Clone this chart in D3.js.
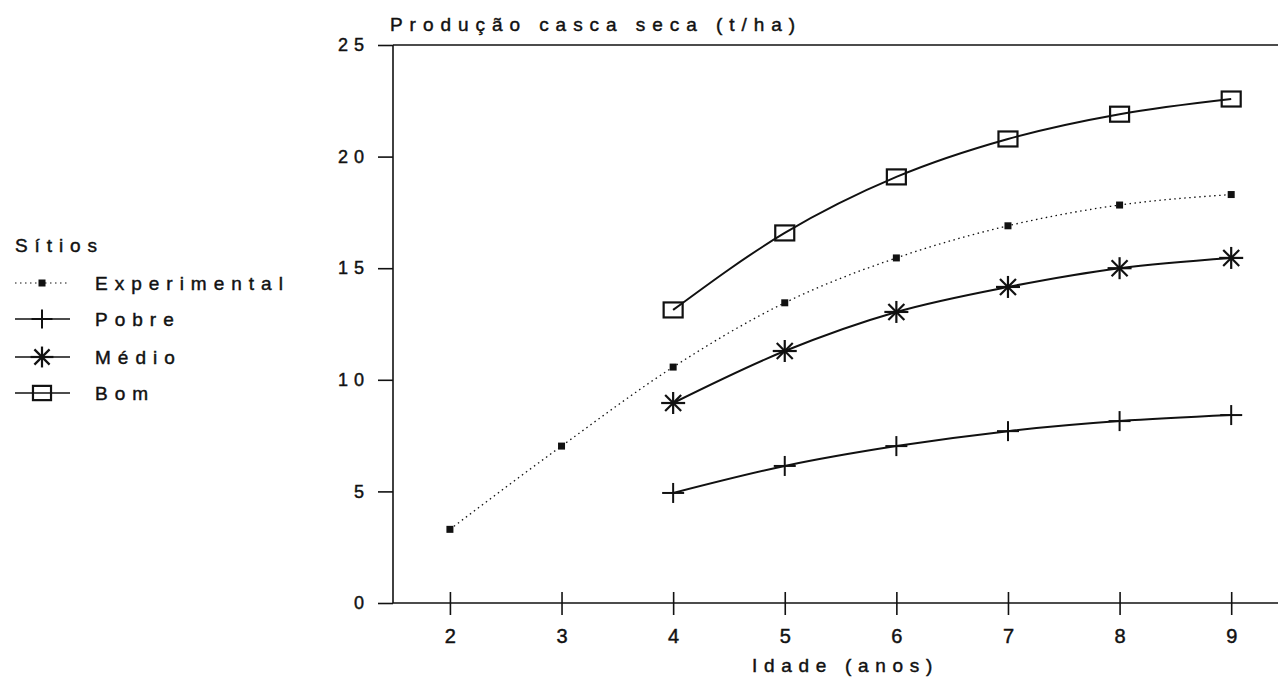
<!DOCTYPE html>
<html><head><meta charset="utf-8">
<script src="https://cdn.jsdelivr.net/npm/d3@7"></script>
<style>
body{margin:0;background:#fff;}
text{font-family:"Liberation Sans",Arial,sans-serif;fill:#111;stroke:#111;stroke-width:0.45px;}
</style></head>
<body><svg id="c" width="1278" height="677"></svg>
<script>
const ages = [2,3,4,5,6,7,8,9];
const experimental = [3.3,7.03,10.57,13.45,15.46,16.9,17.83,18.3];
const agesSite = [4,5,6,7,8,9];
const pobre = [4.93,6.14,7.03,7.7,8.15,8.42];
const medio = [8.96,11.29,13.04,14.16,15.0,15.46];
const bom = [13.13,16.58,19.09,20.79,21.9,22.58];
const yTicks = [0,5,10,15,20,25];
const seriesNames = ["Experimental","Pobre","Médio","Bom"];
const title = "Produção casca seca (t/ha)";
const xTitle = "Idade (anos)";
const legendTitle = "Sítios";

const svg = d3.select("#c");
const x = d3.scaleLinear().domain([1.49,9.5]).range([393,1287]);
const y = d3.scaleLinear().domain([0,25]).range([603,45]);
const ink="#111";
const FF="'Liberation Sans',Arial,sans-serif";

// axes frame
svg.append("line").attr("x1",x(1.49)).attr("x2",1278).attr("y1",y(0)).attr("y2",y(0)).attr("stroke",ink).attr("stroke-width",1.6);
svg.append("line").attr("x1",x(1.49)).attr("x2",x(1.49)).attr("y1",y(0)).attr("y2",y(25)).attr("stroke",ink).attr("stroke-width",1.6);
svg.append("line").attr("x1",x(1.49)).attr("x2",1278).attr("y1",y(25)).attr("y2",y(25)).attr("stroke",ink).attr("stroke-width",1.6);

const yAxis = svg.append("g").attr("transform",`translate(${x(1.49)},0)`)
  .call(d3.axisLeft(y).tickValues(yTicks).tickSize(15).tickPadding(14));
yAxis.select(".domain").remove();
yAxis.selectAll("line").attr("stroke",ink).attr("stroke-width",1.6);
yAxis.selectAll("text").attr("font-size",18).attr("letter-spacing","6px").attr("dx","6px")
  .style("font-family",FF).attr("fill",ink).attr("stroke",ink).attr("stroke-width",0.45);

const xAxis = svg.append("g").attr("transform",`translate(0,${y(0)})`)
  .call(d3.axisBottom(x).tickValues(ages).tickSize(0).tickPadding(26).tickFormat(d3.format("d")));
xAxis.select(".domain").remove();
xAxis.selectAll("text").attr("font-size",20).style("font-family",FF).attr("fill",ink).attr("stroke",ink).attr("stroke-width",0.3);
xAxis.selectAll(".tick").append("line").attr("y1",-11).attr("y2",12).attr("stroke",ink).attr("stroke-width",1.6);

svg.append("text").attr("x",390).attr("y",31).attr("font-size",19).attr("letter-spacing","6.95px").text(title);
svg.append("text").attr("x",752).attr("y",672).attr("font-size",19).attr("letter-spacing","6.7px").text(xTitle);

// series
const line = d3.line().x(d=>x(d[0])).y(d=>y(d[1])).curve(d3.curveMonotoneX);
const data = [
  {name:seriesNames[0], pts:ages.map((a,i)=>[a,experimental[i]]), dash:"1.5,3.5", w:1.3, mk:"dot"},
  {name:seriesNames[1], pts:agesSite.map((a,i)=>[a,pobre[i]]), dash:null, w:2, mk:"plus"},
  {name:seriesNames[2], pts:agesSite.map((a,i)=>[a,medio[i]]), dash:null, w:2, mk:"star"},
  {name:seriesNames[3], pts:agesSite.map((a,i)=>[a,bom[i]]), dash:null, w:2, mk:"box"}
];

function marker(g, type, cx, cy, s){
  s = s||1;
  if(type==="dot"){
    g.append("rect").attr("x",cx-3.5).attr("y",cy-3.5).attr("width",7).attr("height",7).attr("fill",ink);
  } else if(type==="plus"){
    g.append("line").attr("x1",cx-11*s).attr("x2",cx+11*s).attr("y1",cy).attr("y2",cy).attr("stroke",ink).attr("stroke-width",2);
    g.append("line").attr("x1",cx).attr("x2",cx).attr("y1",cy-10*s).attr("y2",cy+10*s).attr("stroke",ink).attr("stroke-width",2);
  } else if(type==="star"){
    const r=12*s, rv=11*s, d=8*s;
    [[-r,0,r,0],[0,-rv,0,rv],[-d,-d,d,d],[-d,d,d,-d]].forEach(q=>
      g.append("line").attr("x1",cx+q[0]).attr("y1",cy+q[1]).attr("x2",cx+q[2]).attr("y2",cy+q[3]).attr("stroke",ink).attr("stroke-width",2.2));
  } else if(type==="box"){
    g.append("rect").attr("x",cx-9.5*s).attr("y",cy-7.5*s).attr("width",19*s).attr("height",15*s).attr("fill","none").attr("stroke",ink).attr("stroke-width",2.2);
  }
}

data.forEach(s=>{
  svg.append("path").datum(s.pts).attr("d",line).attr("fill","none").attr("stroke",ink)
    .attr("stroke-width",s.w).attr("stroke-dasharray",s.dash);
  const g = svg.append("g");
  s.pts.forEach(p=>marker(g,s.mk,x(p[0]),y(p[1])));
});

// legend
svg.append("text").attr("x",15).attr("y",252).attr("font-size",19).attr("letter-spacing","6.9px").text(legendTitle);
const legY = [283,319,357,393];
data.forEach((s,i)=>{
  const ly = legY[i];
  svg.append("line").attr("x1",15).attr("x2",70).attr("y1",ly).attr("y2",ly).attr("stroke",ink)
    .attr("stroke-width",s.dash?1.2:1.6).attr("stroke-dasharray",s.dash);
  marker(svg.append("g"),s.mk,42,ly,0.95);
  svg.append("text").attr("x",95).attr("y",ly+7).attr("font-size",19).attr("letter-spacing","7px").text(s.name);
});
</script></body></html>
